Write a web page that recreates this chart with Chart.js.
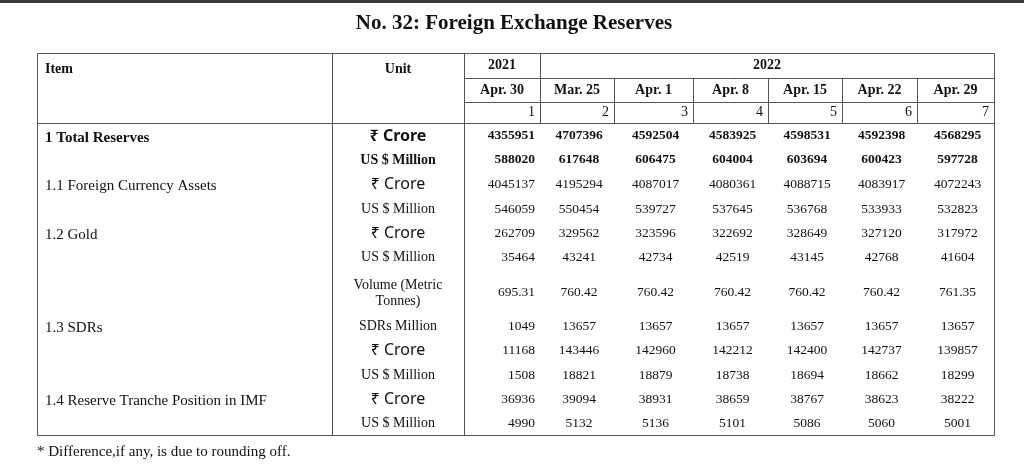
<!DOCTYPE html>
<html><head><meta charset="utf-8">
<script src="https://cdn.jsdelivr.net/npm/chart.js@4"></script>
<style>body{margin:0;background:#fff}canvas{display:block}</style>
</head><body>
<canvas id="c" width="1024" height="470"></canvas>
<script>
const title = 'No. 32: Foreign Exchange Reserves';
const years = ['2021', '2022'];
const dates = ['Apr. 30', 'Mar. 25', 'Apr. 1', 'Apr. 8', 'Apr. 15', 'Apr. 22', 'Apr. 29'];
const colNums = ['1', '2', '3', '4', '5', '6', '7'];
const items = ['1 Total Reserves', '', '1.1 Foreign Currency Assets', '', '1.2 Gold', '', '', '1.3 SDRs', '', '', '1.4 Reserve Tranche Position in IMF', ''];
const units = ['₹ Crore', 'US $ Million', '₹ Crore', 'US $ Million', '₹ Crore', 'US $ Million', 'Volume (Metric|Tonnes)', 'SDRs Million', '₹ Crore', 'US $ Million', '₹ Crore', 'US $ Million'];
const totalCrore = [4355951, 4707396, 4592504, 4583925, 4598531, 4592398, 4568295];
const totalUsd = [588020, 617648, 606475, 604004, 603694, 600423, 597728];
const fcaCrore = [4045137, 4195294, 4087017, 4080361, 4088715, 4083917, 4072243];
const fcaUsd = [546059, 550454, 539727, 537645, 536768, 533933, 532823];
const goldCrore = [262709, 329562, 323596, 322692, 328649, 327120, 317972];
const goldUsd = [35464, 43241, 42734, 42519, 43145, 42768, 41604];
const goldTonnes = ['695.31', '760.42', '760.42', '760.42', '760.42', '760.42', '761.35'];
const sdrSdr = [1049, 13657, 13657, 13657, 13657, 13657, 13657];
const sdrCrore = [11168, 143446, 142960, 142212, 142400, 142737, 139857];
const sdrUsd = [1508, 18821, 18879, 18738, 18694, 18662, 18299];
const rtpCrore = [36936, 39094, 38931, 38659, 38767, 38623, 38222];
const rtpUsd = [4990, 5132, 5136, 5101, 5086, 5060, 5001];
const rows = [totalCrore, totalUsd, fcaCrore, fcaUsd, goldCrore, goldUsd, goldTonnes, sdrSdr, sdrCrore, sdrUsd, rtpCrore, rtpUsd];
const footnote = '* Difference,if any, is due to rounding off.';

// geometry of the table
const colX = [37, 332, 464, 540, 614, 693, 768, 842, 917, 994];
const rowY = [136, 160, 184, 209, 233, 257, 292, 326, 350, 375, 399, 423];
const SERIF = '"Liberation Serif", "Times New Roman", serif';
const SANS = '"Noto Sans", "DejaVu Sans", sans-serif';

const tablePlugin = {
  id: 'table',
  afterDraw(chart) {
    const c = chart.ctx, sx = chart.scales.x, sy = chart.scales.y;
    const X = v => sx.getPixelForValue(v), Y = v => sy.getPixelForValue(v);
    c.save();
    c.fillStyle = '#3a3a3a';
    c.fillRect(0, 0, 1024, 3);
    c.fillStyle = '#111';
    c.textBaseline = 'middle';
    c.textAlign = 'center';
    c.font = 'bold 21px ' + SERIF;
    c.fillText(title, X(514), Y(24));

    // lines
    c.strokeStyle = '#555'; c.lineWidth = 1;
    const line = (x1, y1, x2, y2) => { c.beginPath(); c.moveTo(Math.round(X(x1)) + 0.5, Math.round(Y(y1)) + 0.5); c.lineTo(Math.round(X(x2)) + 0.5, Math.round(Y(y2)) + 0.5); c.stroke(); };
    line(colX[0], 53, colX[9], 53);
    line(colX[0], 123, colX[9], 123);
    line(colX[0], 435, colX[9], 435);
    line(colX[2], 78, colX[9], 78);
    line(colX[2], 102, colX[9], 102);
    line(colX[0], 53, colX[0], 435);
    line(colX[1], 53, colX[1], 435);
    line(colX[2], 53, colX[2], 435);
    line(colX[3], 53, colX[3], 123);
    line(colX[9], 53, colX[9], 435);
    for (let i = 4; i < 9; i++) line(colX[i], 78, colX[i], 123);

    // header
    c.font = 'bold 14px ' + SERIF;
    c.textAlign = 'left';
    c.fillText('Item', X(45), Y(69));
    c.textAlign = 'center';
    c.fillText('Unit', X((colX[1] + colX[2]) / 2), Y(69));
    c.fillText(years[0], X((colX[2] + colX[3]) / 2), Y(65));
    c.fillText(years[1], X((colX[3] + colX[9]) / 2), Y(65));
    dates.forEach((d, i) => c.fillText(d, X((colX[i + 2] + colX[i + 3]) / 2), Y(90)));
    c.font = '14px ' + SERIF;
    c.textAlign = 'right';
    colNums.forEach((n, i) => c.fillText(n, X(colX[i + 3] - 5), Y(112)));

    // body
    rows.forEach((vals, r) => {
      const y = rowY[r], bold = r < 2;
      if (items[r]) {
        c.textAlign = 'left';
        c.font = (bold ? 'bold ' : '') + '15px ' + SERIF;
        c.fillText(items[r], X(45), Y(y + 2));
      }
      c.textAlign = 'center';
      const ux = X((colX[1] + colX[2]) / 2);
      if (units[r].startsWith('₹')) {
        c.font = (bold ? 'bold ' : '') + '16px ' + SANS;
        c.fillText(units[r], ux, Y(y));
      } else if (units[r].includes('|')) {
        c.font = '14px ' + SERIF;
        const parts = units[r].split('|');
        c.fillText(parts[0], ux, Y(y - 7));
        c.fillText(parts[1], ux, Y(y + 9));
      } else {
        c.font = (bold ? 'bold ' : '') + '14px ' + SERIF;
        c.fillText(units[r], ux, Y(y));
      }
      c.font = (bold ? 'bold ' : '') + '13.5px ' + SERIF;
      vals.forEach((v, i) => {
        const label = String(v);
        if (i === 0) { c.textAlign = 'right'; c.fillText(label, X(colX[3] - 5), Y(y)); }
        else { c.textAlign = 'center'; c.fillText(label, X((colX[i + 2] + colX[i + 3]) / 2 + 2), Y(y)); }
      });
    });
    c.textAlign = 'left';
    c.font = '15px ' + SERIF;
    c.fillText(footnote, X(37), Y(452));
    c.restore();
  }
};

new Chart(document.getElementById('c'), {
  type: 'scatter',
  data: { datasets: [{ data: [] }] },
  options: {
    responsive: false,
    animation: false,
    layout: { padding: 0 },
    plugins: { legend: { display: false }, tooltip: { enabled: false } },
    scales: {
      x: { type: 'linear', min: 0, max: 1024, display: false },
      y: { type: 'linear', min: 0, max: 470, reverse: true, display: false }
    }
  },
  plugins: [tablePlugin]
});
</script>
</body></html>
